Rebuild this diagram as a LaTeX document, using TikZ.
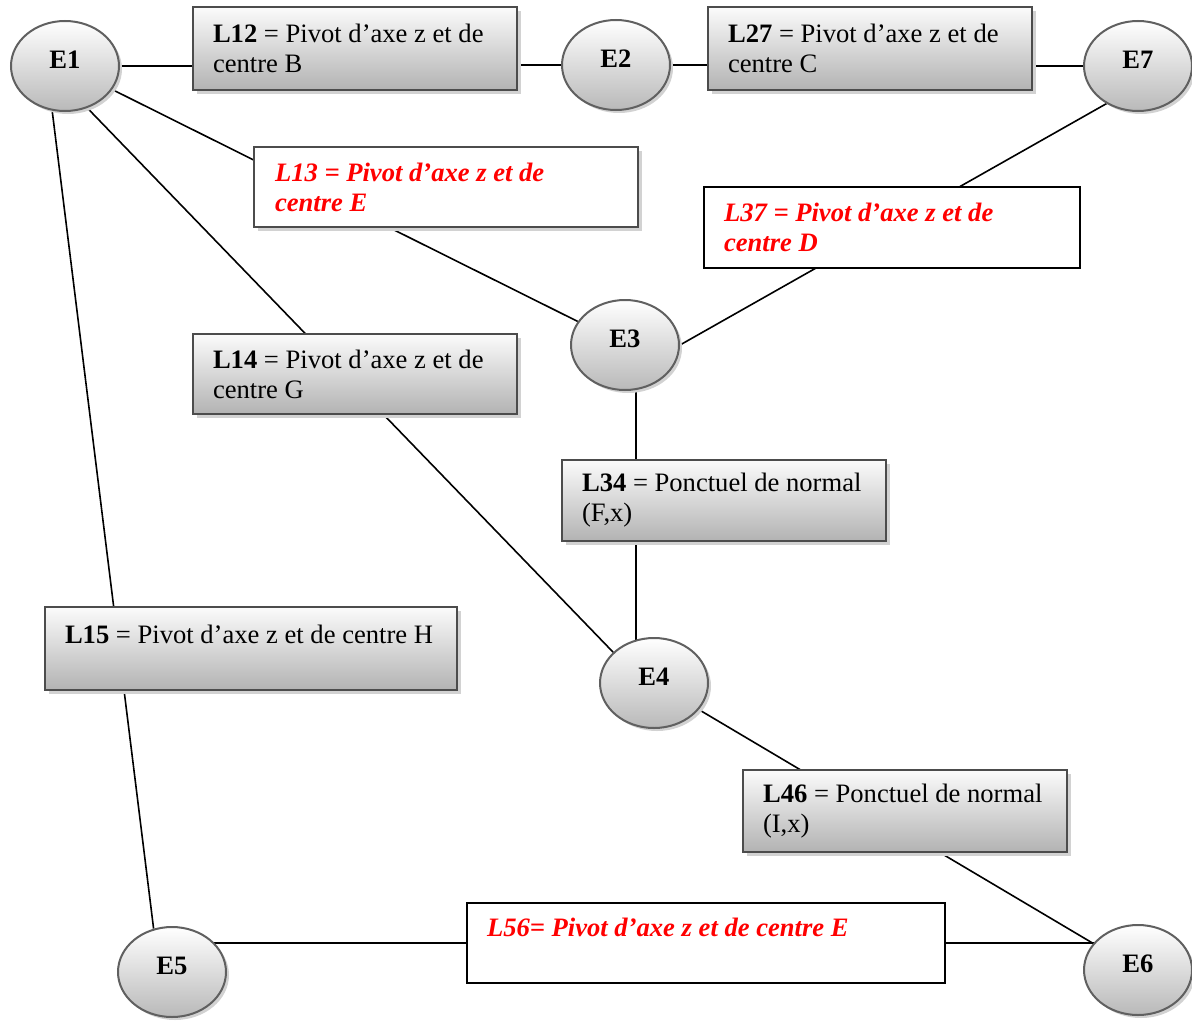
\documentclass[tikz,border=0pt]{standalone}
\usepackage{fontspec}
\setmainfont{Liberation Serif}
\usetikzlibrary{positioning,shapes.geometric,shadows,backgrounds}
\newcommand{\tailleschema}{\fontsize{13.3}{15}\selectfont\hyphenpenalty=10000}
\tikzset{
    classe/.style={draw=gray!75!black, line width=1pt, ellipse, minimum width=54pt, minimum height=45pt, inner sep=0pt, top color=white, bottom color=gray!55, font=\tailleschema\bfseries, text depth=6pt, drop shadow={shadow xshift=1.5pt, shadow yshift=-1.5pt, fill=gray!35, opacity=1}},
    liaison/.style={draw=gray!60!black, line width=1pt, rectangle, align=flush left, inner xsep=10pt, top color=gray!3, bottom color=gray!60, font=\tailleschema, drop shadow={shadow xshift=2pt, shadow yshift=-2pt, fill=gray!35, opacity=1}},
    liaisonrouge/.style={draw=gray!60!black, line width=1pt, rectangle, align=flush left, inner xsep=10.5pt, fill=white, text=red, font=\tailleschema\bfseries\itshape, drop shadow={shadow xshift=2pt, shadow yshift=-2pt, fill=gray!35, opacity=1}},
    liaisonnoire/.style={draw, line width=0.9pt, rectangle, align=flush left, inner xsep=10pt, fill=white, text=red, font=\tailleschema\bfseries\itshape},
    lien/.style={draw, line width=0.8pt}
}

\begin{document}
\begin{tikzpicture}[x=0.5pt, y=-0.5pt]
    \useasboundingbox (0,0) rectangle (1192,1022);
    % classes d'equivalence
    \node[classe] (E1) at (65,66) {E1};
    \node[classe] (E2) at (616,65) {E2};
    \node[classe] (E7) at (1138,66) {E7};
    \node[classe] (E3) at (625,345) {E3};
    \node[classe] (E4) at (654,683) {E4};
    \node[classe] (E5) at (172,972) {E5};
    \node[classe] (E6) at (1138,970) {E6};

    % liaisons
    \node[liaison, text width=142pt, minimum height=41.5pt] (L12) at (355,48.5) {\textbf{L12} = Pivot d’axe z et de\\centre B};
    \node[liaison, text width=142pt, minimum height=41.5pt] (L27) at (870,48.5) {\textbf{L27} = Pivot d’axe z et de\\centre C};
    \node[liaisonrouge, text width=171pt, minimum height=40pt] (L13) at (446,187) {L13 = Pivot d’axe z et de\\centre E};
    \node[liaisonnoire, text width=168pt, minimum height=40.5pt] (L37) at (892,227.5) {L37 = Pivot d’axe z et de\\centre D};
    \node[liaison, text width=142pt, minimum height=40pt] (L14) at (355,374) {\textbf{L14} = Pivot d’axe z et de\\centre G};
    \node[liaison, text width=142pt, minimum height=40.5pt] (L34) at (724,500.5) {\textbf{L34} = Ponctuel de normal\\(F,x)};
    \node[liaison, text width=186pt, minimum height=41.5pt, text depth=14.5pt] (L15) at (251,648.5) {\textbf{L15} = Pivot d’axe z et de centre H};
    \node[liaison, text width=142pt, minimum height=41pt] (L46) at (905,811) {\textbf{L46} = Ponctuel de normal\\(I,x)};
    \node[liaisonnoire, text width=219pt, minimum height=40pt, text depth=16pt] (L56) at (706,943) {L56= Pivot d’axe z et de centre E};

    \begin{scope}[on background layer]
        \draw[lien] (E1) -- (E1 -| L12.west);
        \draw[lien] (L12.east |- E2) -- (E2);
        \draw[lien] (E2) -- (E2 -| L27.west);
        \draw[lien] (L27.east |- E7) -- (E7);
        \draw[lien] (E1) -- (E3);
        \draw[lien] (E1.-62) -- (E4.143);
        \draw[lien] (E1.-106) -- (E5.113);
        \draw[lien] (E7.-130) -- (E3.east);
        \draw[lien] (E3.-76) -- (E3.-76 |- E4);
        \draw[lien] (E4) -- (E6);
        \draw[lien] (L56.west -| E5) -- (L56.east -| E6);
    \end{scope}
\end{tikzpicture}
\end{document}
